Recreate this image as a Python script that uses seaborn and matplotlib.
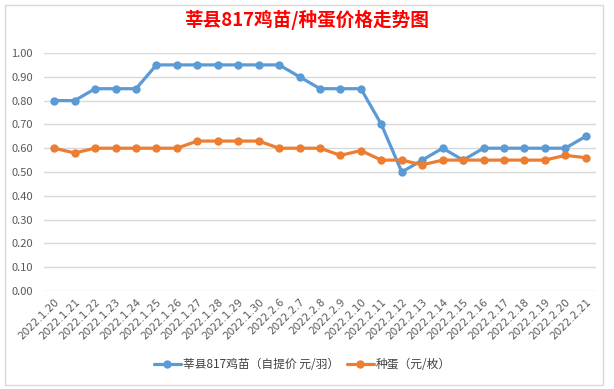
import matplotlib
matplotlib.use("Agg")
import matplotlib.pyplot as plt
import seaborn as sns
import pandas as pd
from matplotlib.patches import Rectangle
from matplotlib.transforms import ScaledTranslation

dates = ["2022.1.20", "2022.1.21", "2022.1.22", "2022.1.23", "2022.1.24", "2022.1.25",
         "2022.1.26", "2022.1.27", "2022.1.28", "2022.1.29", "2022.1.30", "2022.2.6",
         "2022.2.7", "2022.2.8", "2022.2.9", "2022.2.10", "2022.2.11", "2022.2.12",
         "2022.2.13", "2022.2.14", "2022.2.15", "2022.2.16", "2022.2.17", "2022.2.18",
         "2022.2.19", "2022.2.20", "2022.2.21"]
chick = [0.80, 0.80, 0.85, 0.85, 0.85, 0.95, 0.95, 0.95, 0.95, 0.95, 0.95, 0.95,
         0.90, 0.85, 0.85, 0.85, 0.70, 0.50, 0.55, 0.60, 0.55, 0.60, 0.60, 0.60,
         0.60, 0.60, 0.65]
egg = [0.60, 0.58, 0.60, 0.60, 0.60, 0.60, 0.60, 0.63, 0.63, 0.63, 0.63, 0.60,
       0.60, 0.60, 0.57, 0.59, 0.55, 0.55, 0.53, 0.55, 0.55, 0.55, 0.55, 0.55,
       0.55, 0.57, 0.56]
series_names = ["莘县817鸡苗（自提价 元/羽）", "种蛋（元/枚）"]
title = "莘县817鸡苗/种蛋价格走势图"
yticks = [0.0, 0.1, 0.2, 0.3, 0.4, 0.5, 0.6, 0.7, 0.8, 0.9, 1.0]

sns.set_style("white")
plt.rcParams['font.family'] = ['Noto Sans CJK SC', 'DejaVu Sans']

df = pd.DataFrame({
    "date": dates * 2,
    "value": chick + egg,
    "series": [series_names[0]] * len(dates) + [series_names[1]] * len(dates),
})
df["x"] = list(range(len(dates))) * 2

fig = plt.figure(figsize=(6.14, 3.89), dpi=100)
ax = fig.add_axes([44/614, 1 - 291/389, (596-44)/614, (291-53)/389])

palette = {series_names[0]: "#5B9BD5", series_names[1]: "#ED7D31"}
sns.lineplot(data=df, x="x", y="value", hue="series", palette=palette, marker="o",
             markersize=6, markeredgewidth=0, linewidth=2.3, ax=ax, clip_on=False,
             legend=True)

ax.set_xlim(-0.5, len(dates) - 0.5)
ax.set_ylim(0, 1.0)
ax.set_yticks(yticks)
ax.set_yticklabels([f"{v:.2f}" for v in yticks], fontsize=8, color="#595959")
ax.set_xticks(range(len(dates)))
ax.set_xticklabels(dates, rotation=45, ha="right", va="top", rotation_mode="anchor",
                   fontsize=8, color="#595959")
offset = ScaledTranslation(4/72, 0, fig.dpi_scale_trans)
for lab in ax.get_xticklabels():
    lab.set_fontfamily(['DejaVu Sans'])
    lab.set_fontsize(7.5)
    lab.set_transform(lab.get_transform() + offset)
ax.tick_params(axis="both", length=0, pad=4)
ax.tick_params(axis="y", pad=8)
ax.grid(axis="y", color="#D9D9D9", linewidth=1)
ax.set_axisbelow(True)
for s in ax.spines.values():
    s.set_visible(False)
ax.set_xlabel("")
ax.set_ylabel("")

leg = ax.legend(loc="center", ncol=2, frameon=False, fontsize=8.5, handlelength=2.3,
                columnspacing=0.6, handletextpad=0.2)
leg.set_bbox_to_anchor((0.5 * (155+450)/614, 1 - 365/389), transform=fig.transFigure)
for t in leg.get_texts():
    t.set_color("#404040")

fig.text(306.5/614, 1 - 20/389, title, ha="center", va="center", fontsize=13.4,
         fontweight="bold", color="#FF0000")

fig.patches.append(Rectangle((5/614, 4/389), 598/614, 380/389, transform=fig.transFigure,
                             fill=False, edgecolor="#D9D9D9", linewidth=1))

fig.savefig("out.png", dpi=100)
